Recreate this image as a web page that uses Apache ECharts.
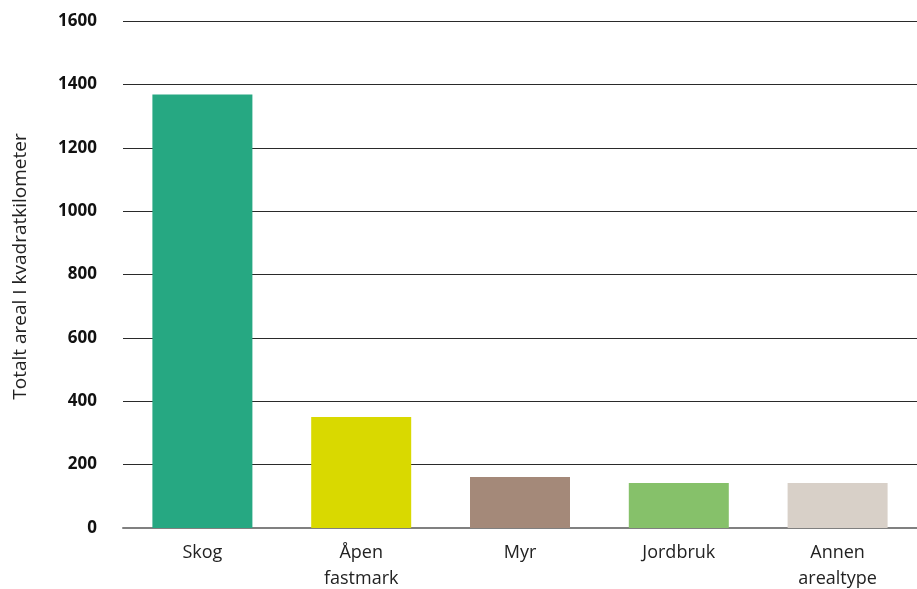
<!DOCTYPE html>
<html>
<head>
<meta charset="utf-8">
<script src="https://cdn.jsdelivr.net/npm/echarts@6/dist/echarts.min.js"></script>
<style>
  html, body { margin: 0; padding: 0; background: #fff; }
  #main { width: 917px; height: 589px; }
</style>
</head>
<body>
<div id="main"></div>
<script>
// arealtyper og totalt areal (km2)
var categories = ['Skog', 'Åpen\nfastmark', 'Myr', 'Jordbruk', 'Annen\narealtype'];
var values = [1368, 350, 161, 142, 142];
var colors = ['#26a882', '#d9d900', '#a48979', '#86c16a', '#d8d0c8'];

var myChart = echarts.init(document.getElementById('main'));

myChart.setOption({
    animation: false,
    grid: {
        left: 123,
        right: 0,
        top: 21,
        bottom: 61,
        outerBoundsMode: 'none'
    },
    xAxis: {
        type: 'category',
        data: categories,
        axisTick: { show: false },
        axisLine: {
            show: true,
            lineStyle: { color: '#808080', width: 2 }
        },
        axisLabel: {
            fontFamily: 'Open Sans',
            fontSize: 18,
            color: '#222',
            margin: 12,
            lineHeight: 26
        }
    },
    yAxis: {
        type: 'value',
        min: 0,
        max: 1600,
        interval: 200,
        name: 'Totalt areal I kvadratkilometer',
        nameLocation: 'middle',
        nameGap: 93,
        nameTextStyle: {
            fontFamily: 'Open Sans',
            fontSize: 19,
            color: '#222',
            padding: [0, 0, 0, 16]
        },
        axisLine: { show: false },
        axisTick: { show: false },
        axisLabel: {
            fontFamily: 'Open Sans',
            fontWeight: 'bold',
            fontSize: 17,
            color: '#111',
            margin: 26,
            formatter: function (v) { return String(v); }
        },
        splitLine: {
            show: true,
            lineStyle: { color: '#2a2a2a', width: 1 }
        }
    },
    series: [{
        type: 'bar',
        data: values.map(function (v, i) {
            return { value: v, itemStyle: { color: colors[i] } };
        }),
        barWidth: 100
    }]
});
</script>
</body>
</html>
